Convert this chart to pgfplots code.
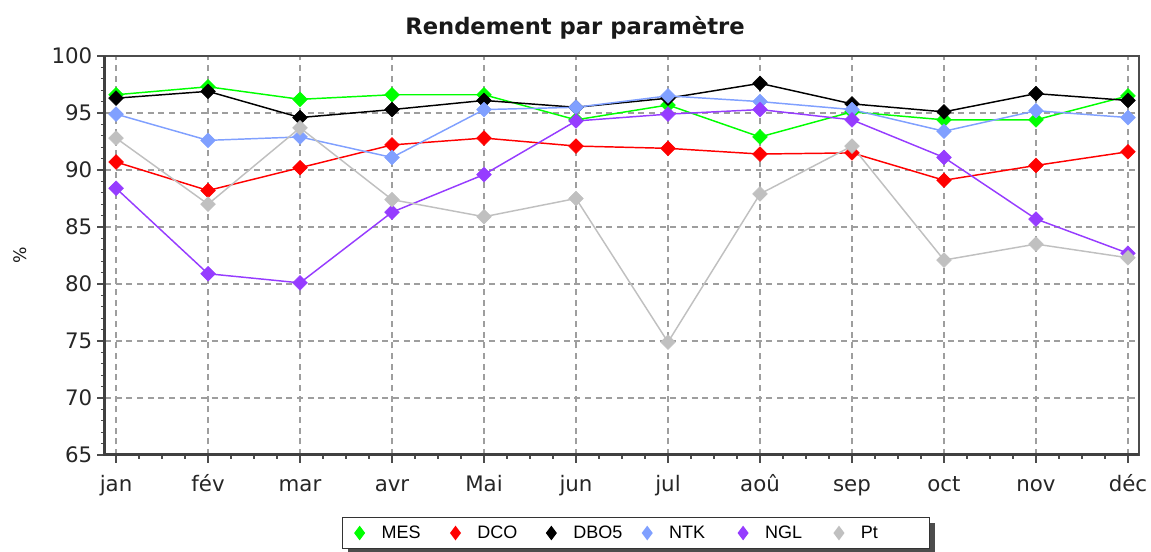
\documentclass[border=0pt]{standalone}
\usepackage{pgfplots}
\pgfplotsset{compat=1.18}
\usepackage{fontspec}
\setmainfont{DejaVu Sans}
\newfontfamily\legfont{Liberation Sans}
\usetikzlibrary{shadows}
\definecolor{mesc}{RGB}{0,255,0}
\definecolor{dcoc}{RGB}{255,0,0}
\definecolor{dboc}{RGB}{0,0,0}
\definecolor{ntkc}{RGB}{128,160,255}
\definecolor{nglc}{RGB}{150,60,255}
\definecolor{ptc}{RGB}{192,192,192}
\begin{document}
\begin{tikzpicture}
\begin{axis}[
  at={(0,0)}, anchor=south west,
  scale only axis, width=775.5pt, height=299.25pt,
  xmin=-0.12, xmax=11.12, ymin=65, ymax=100,
  xtick={0,...,11},
  xticklabels={jan,fév,mar,avr,Mai,jun,jul,aoû,sep,oct,nov,déc},
  ytick={65,70,...,100},
  minor x tick num=3, minor y tick num=4,
  tick align=outside, tick pos=left,
  major tick length=6pt, minor tick length=3pt,
  every tick/.style={black!70, line width=0.9pt},
  grid=major,
  grid style={dash pattern=on 4.5pt off 3.5pt, black!38, line width=0.9pt},
  axis line style={draw=black!70, line width=1.3pt},
  /pgf/number format/assume math mode=true,
  ticklabel style={font=\fontsize{16}{16}\selectfont, text=black!85},
  xticklabel style={anchor=base, yshift=-21.5pt},
  clip=false,
  legend columns=6,
  legend cell align=left,
  legend style={at={(0.5135,-0.1554)}, anchor=north, draw=black!80, line width=1.1pt,
    fill=white, inner xsep=9.3pt, inner ysep=6pt,
    drop shadow={shadow xshift=4pt, shadow yshift=-4pt, fill=black!70, opacity=1},
    nodes={inner sep=0pt},
    /tikz/every odd column/.append style={column sep=13pt},
    /tikz/every even column/.append style={column sep=10pt},
    font=\legfont\fontsize{13.5}{14}\selectfont},
  legend image code/.code={\draw[#1, mark=diamond*, mark size=4.6pt, mark options={rotate=0}] plot coordinates {(0pt,0pt)};},
]
% lines
\addplot[forget plot, mesc, line width=1.1pt] coordinates {(0,96.6)(1,97.3)(2,96.2)(3,96.6)(4,96.6)(5,94.4)(6,95.7)(7,92.9)(8,95.1)(9,94.4)(10,94.4)(11,96.5)};
\addplot[forget plot, dcoc, line width=1.1pt] coordinates {(0,90.7)(1,88.2)(2,90.2)(3,92.2)(4,92.8)(5,92.1)(6,91.9)(7,91.4)(8,91.5)(9,89.1)(10,90.4)(11,91.6)};
\addplot[forget plot, dboc, line width=1.1pt] coordinates {(0,96.3)(1,96.9)(2,94.6)(3,95.3)(4,96.1)(5,95.5)(6,96.3)(7,97.6)(8,95.8)(9,95.1)(10,96.7)(11,96.1)};
\addplot[forget plot, ntkc, line width=1.1pt] coordinates {(0,94.9)(1,92.6)(2,92.9)(3,91.1)(4,95.3)(5,95.5)(6,96.5)(7,96.0)(8,95.3)(9,93.4)(10,95.2)(11,94.6)};
\addplot[forget plot, nglc, line width=1.1pt] coordinates {(0,88.4)(1,80.9)(2,80.1)(3,86.3)(4,89.6)(5,94.3)(6,94.9)(7,95.3)(8,94.4)(9,91.1)(10,85.7)(11,82.7)};
\addplot[forget plot, ptc, line width=1.1pt] coordinates {(0,92.8)(1,87.0)(2,93.7)(3,87.4)(4,85.9)(5,87.5)(6,74.9)(7,87.9)(8,92.1)(9,82.1)(10,83.5)(11,82.3)};
% marks
\addplot[only marks, mesc, mark=square*, mark size=3.9pt, mark options={rotate=45}] coordinates {(0,96.6)(1,97.3)(2,96.2)(3,96.6)(4,96.6)(5,94.4)(6,95.7)(7,92.9)(8,95.1)(9,94.4)(10,94.4)(11,96.5)};
\addlegendentry{\makebox[42pt][l]{MES}}
\addplot[only marks, dcoc, mark=square*, mark size=3.9pt, mark options={rotate=45}] coordinates {(0,90.7)(1,88.2)(2,90.2)(3,92.2)(4,92.8)(5,92.1)(6,91.9)(7,91.4)(8,91.5)(9,89.1)(10,90.4)(11,91.6)};
\addlegendentry{\makebox[42pt][l]{DCO}}
\addplot[only marks, dboc, mark=square*, mark size=3.9pt, mark options={rotate=45}] coordinates {(0,96.3)(1,96.9)(2,94.6)(3,95.3)(4,96.1)(5,95.5)(6,96.3)(7,97.6)(8,95.8)(9,95.1)(10,96.7)(11,96.1)};
\addlegendentry{\makebox[42pt][l]{DBO5}}
\addplot[only marks, ntkc, mark=square*, mark size=3.9pt, mark options={rotate=45}] coordinates {(0,94.9)(1,92.6)(2,92.9)(3,91.1)(4,95.3)(5,95.5)(6,96.5)(7,96.0)(8,95.3)(9,93.4)(10,95.2)(11,94.6)};
\addlegendentry{\makebox[42pt][l]{NTK}}
\addplot[only marks, nglc, mark=square*, mark size=3.9pt, mark options={rotate=45}] coordinates {(0,88.4)(1,80.9)(2,80.1)(3,86.3)(4,89.6)(5,94.3)(6,94.9)(7,95.3)(8,94.4)(9,91.1)(10,85.7)(11,82.7)};
\addlegendentry{\makebox[42pt][l]{NGL}}
\addplot[only marks, ptc, mark=square*, mark size=3.9pt, mark options={rotate=45}] coordinates {(0,92.8)(1,87.0)(2,93.7)(3,87.4)(4,85.9)(5,87.5)(6,74.9)(7,87.9)(8,92.1)(9,82.1)(10,83.5)(11,82.3)};
\addlegendentry{\makebox[42pt][l]{Pt}}
% thick left and bottom axis lines
\draw[black!75, line width=2.25pt] (rel axis cs:0,1) -- (rel axis cs:0,0) -- (rel axis cs:1,0);
% title and y label
\node[font=\bfseries\fontsize{17}{18}\selectfont, text=black!90] at (axis cs:4.989,102.5) {Rendement par paramètre};
\node[rotate=90, font=\fontsize{13}{14}\selectfont, text=black!90] at (axis cs:-1.043,82.5) {\%};
\end{axis}
\pgfresetboundingbox
\path[use as bounding box] (-78.75pt,-72.75pt) rectangle (784.5pt,341.25pt);
\end{tikzpicture}
\end{document}
